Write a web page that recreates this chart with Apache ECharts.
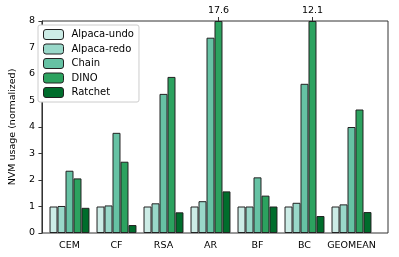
<!DOCTYPE html>
<html><head><meta charset="utf-8">
<script src="https://cdn.jsdelivr.net/npm/echarts@6/dist/echarts.min.js"></script>
<style>html,body{margin:0;padding:0;background:#fff}#c{width:399px;height:257px}</style>
</head><body><div id="c"></div>
<script>
const categories = ['CEM','CF','RSA','AR','BF','BC','GEOMEAN'];
const seriesNames = ['Alpaca-undo','Alpaca-redo','Chain','DINO','Ratchet'];
const colors = ['#ccece6','#99d8c9','#66c2a4','#2ca25f','#006d2c'];
const alpacaUndo = [1.0, 1.0, 1.0, 1.0, 1.0, 1.0, 1.0];
const alpacaRedo = [1.02, 1.04, 1.12, 1.2, 1.0, 1.14, 1.08];
const chain = [2.35, 3.78, 5.25, 7.37, 2.1, 5.63, 4.0];
const dino = [2.06, 2.69, 5.89, 17.6, 1.41, 12.1, 4.66];
const ratchet = [0.95, 0.3, 0.78, 1.57, 1.0, 0.64, 0.79];
const yTicks = [0,1,2,3,4,5,6,7,8];
const yMax = 8;
const allData = [alpacaUndo, alpacaRedo, chain, dino, ratchet];
const font = 'DejaVu Sans';

const series = allData.map((arr, si) => ({
  name: seriesNames[si],
  type: 'bar',
  xAxisIndex: 1, yAxisIndex: 1,
  barGap: '0%', barCategoryGap: '15%',
  itemStyle: { color: colors[si], borderColor: '#222', borderWidth: 1 },
  data: arr.map(v => v > yMax ? {
    value: yMax,
    label: { show: true, position: 'top', distance: 0, align: 'center',
             formatter: '{a|' + v + '}\n{b|}',
             rich: {
               a: { fontFamily: font, fontSize: 9.5, color: '#000', lineHeight: 12, align: 'center' },
               b: { width: 1, height: 4, backgroundColor: '#333', align: 'center' }
             } }
  } : v),
  animation: false
}));

const chart = echarts.init(document.getElementById('c'), null, {renderer:'canvas'});
chart.setOption({
  animation: false,
  textStyle: { fontFamily: font },
  grid: [
    { left: 33, right: 11, top: 21, bottom: 24, show: true, borderColor: '#333', borderWidth: 1, backgroundColor: 'transparent' },
    { left: 46, right: 24, top: 21, bottom: 24 }
  ],
  legend: {
    left: 38, top: 25, orient: 'vertical',
    itemWidth: 20, itemHeight: 10, itemGap: 3.5,
    padding: [4, 5, 4, 5],
    backgroundColor: '#fff', borderColor: '#ccc', borderWidth: 1, borderRadius: 2,
    textStyle: { fontFamily: font, fontSize: 10, color: '#000', padding: [0,0,0,3] },
    itemStyle: { borderColor: '#222', borderWidth: 1 },
    data: seriesNames
  },
  xAxis: [
    { gridIndex: 0, type: 'value', min: 0, max: 1, show: false },
    { gridIndex: 1, type: 'category', data: categories,
      axisLine: { show: false },
      axisTick: { alignWithLabel: true, length: 3.5, lineStyle: { color: '#333' } },
      axisLabel: { interval: 0, fontFamily: font, fontSize: 9.5, color: '#000', margin: 7.5 } }
  ],
  yAxis: [
    { gridIndex: 0, type: 'value', min: 0, max: yMax, interval: 1,
      name: 'NVM usage (normalized)', nameLocation: 'middle', nameGap: 19, nameRotate: 90,
      nameTextStyle: { fontFamily: font, fontSize: 9.5, color: '#000' },
      axisLine: { show: true, lineStyle: { color: '#333' } },
      axisTick: { show: true, length: 3.5, lineStyle: { color: '#333' } },
      axisLabel: { fontFamily: font, fontSize: 9.5, color: '#000', margin: 7,
                   formatter: v => yTicks.includes(v) ? String(v) : '' },
      splitLine: { show: false } },
    { gridIndex: 1, type: 'value', min: 0, max: yMax, show: false, splitLine: { show: false } }
  ],
  series: series
});
</script></body></html>
